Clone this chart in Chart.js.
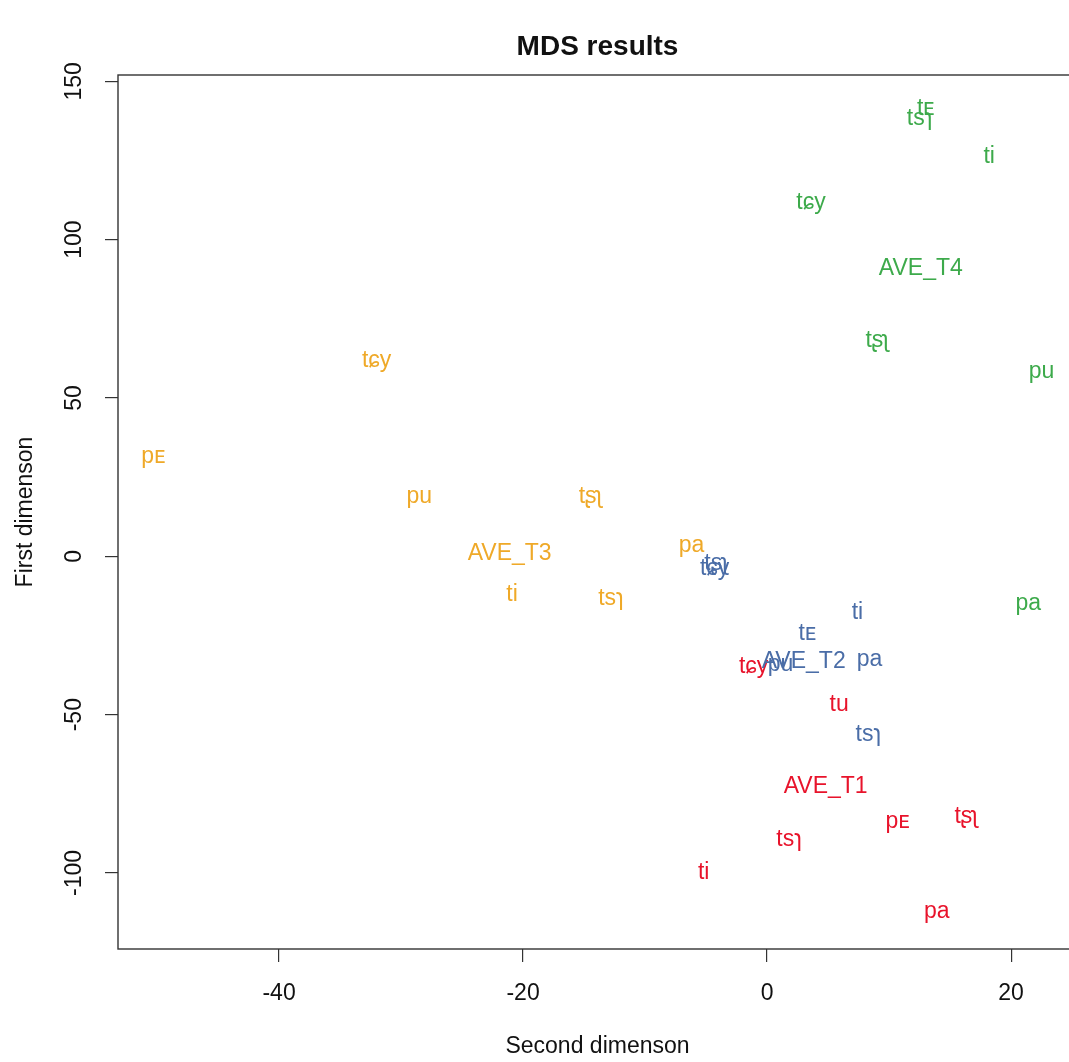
<!DOCTYPE html>
<html>
<head>
<meta charset="utf-8">
<title>MDS results</title>
<script src="https://cdn.jsdelivr.net/npm/chart.js@4.4.0/dist/chart.umd.min.js"></script>
<style>
  html, body { margin: 0; padding: 0; overflow: hidden; background: #ffffff; }
  #wrap { width: 1090px; height: 1062px; position: relative; }
</style>
</head>
<body>
<div id="wrap"><canvas id="mds" width="1090" height="1062"></canvas></div>
<script>
// MDS coordinates per talker group: x = second dimension, y = first dimension
const t1Labels = ['tɕy', 'tu', 'AVE_T1', 'tʂʅ', 'pᴇ', 'tsɿ', 'ti', 'pa'];
const t1X = [-1.1, 5.9, 4.8, 16.3, 10.7, 1.8, -5.2, 13.9];
const t1Y = [-34.3, -46.3, -72.2, -81.7, -83.2, -88.9, -99.3, -111.5];

const t2Labels = ['tʂʅ', 'tɕy', 'ti', 'tᴇ', 'AVE_T2', 'pu', 'pa', 'tsɿ'];
const t2X = [-4.2, -4.3, 7.4, 3.3, 3.0, 1.1, 8.4, 8.3];
const t2Y = [-1.8, -3.3, -17.2, -23.9, -32.7, -33.6, -32.1, -55.7];

const t3Labels = ['tɕy', 'pᴇ', 'pu', 'tʂʅ', 'AVE_T3', 'pa', 'ti', 'tsɿ'];
const t3X = [-32.0, -50.3, -28.5, -14.5, -21.1, -6.2, -20.9, -12.8];
const t3Y = [62.4, 32.0, 19.4, 19.4, 1.4, 3.9, -11.5, -12.8];

const t4Labels = ['tᴇ', 'tsɿ', 'ti', 'tɕy', 'AVE_T4', 'tʂʅ', 'pu', 'pa'];
const t4X = [13.0, 12.5, 18.2, 3.6, 12.6, 9.0, 22.5, 21.4];
const t4Y = [141.9, 138.8, 126.7, 112.2, 91.4, 68.7, 58.9, -14.4];

const xTicks = [-40, -20, 0, 20];
const yTicks = [-100, -50, 0, 50, 100, 150];

const groupColors = { T1: '#e8132b', T2: '#4a6da7', T3: '#efa928', T4: '#3daa4b' };

const FONT = '"Liberation Sans", Arial, "DejaVu Sans", sans-serif';
const AXIS_COLOR = '#333333';

function points(xs, ys) {
  return xs.map((x, i) => ({ x: x, y: ys[i] }));
}

function group(name, labels, xs, ys) {
  return {
    label: name,
    data: points(xs, ys),
    textLabels: labels,
    pointRadius: 0,
    pointHoverRadius: 0,
    borderColor: groupColors[name],
    backgroundColor: groupColors[name]
  };
}

// Draws each point as its text label, centred on the point
const textMarks = {
  id: 'textMarks',
  afterDatasetsDraw(chart) {
    const ctx = chart.ctx;
    ctx.save();
    ctx.font = '23px ' + FONT;
    ctx.textAlign = 'center';
    ctx.textBaseline = 'alphabetic';
    const capHalf = 23 * 0.716 / 2;
    chart.data.datasets.forEach((ds, i) => {
      const meta = chart.getDatasetMeta(i);
      ctx.fillStyle = ds.borderColor;
      meta.data.forEach((pt, j) => {
        ctx.fillText(ds.textLabels[j], pt.x, pt.y + capHalf);
      });
    });
    ctx.restore();
  }
};

// Box, tick labels and titles in the classic plot style
const frame = {
  id: 'frame',
  afterDraw(chart) {
    const ctx = chart.ctx;
    const a = chart.chartArea;
    const xs = chart.scales.x;
    const ys = chart.scales.y;
    ctx.save();
    ctx.strokeStyle = AXIS_COLOR;
    ctx.lineWidth = 1.4;
    ctx.strokeRect(a.left, a.top, a.right - a.left, a.bottom - a.top);

    ctx.fillStyle = '#111111';
    ctx.font = '23px ' + FONT;
    ctx.textAlign = 'center';
    ctx.textBaseline = 'middle';
    xTicks.forEach(v => {
      ctx.fillText(String(v), xs.getPixelForValue(v), a.bottom + 45);
    });
    yTicks.forEach(v => {
      ctx.save();
      ctx.translate(a.left - 43, ys.getPixelForValue(v));
      ctx.rotate(-Math.PI / 2);
      ctx.fillText(String(v), 0, 0);
      ctx.restore();
    });

    const cx = (a.left + a.right) / 2;
    const cy = (a.top + a.bottom) / 2;
    ctx.fillText('Second dimenson', cx, a.bottom + 98);
    ctx.save();
    ctx.translate(a.left - 92, cy);
    ctx.rotate(-Math.PI / 2);
    ctx.fillText('First dimenson', 0, 0);
    ctx.restore();

    ctx.font = 'bold 28px ' + FONT;
    ctx.fillText('MDS results', cx, 47);
    ctx.restore();
  }
};

const tickMarks = {
  display: true,
  drawOnChartArea: false,
  drawTicks: true,
  tickLength: 13,
  color: AXIS_COLOR,
  lineWidth: 1.2
};

new Chart(document.getElementById('mds'), {
  type: 'scatter',
  data: {
    datasets: [
      group('T1', t1Labels, t1X, t1Y),
      group('T2', t2Labels, t2X, t2Y),
      group('T3', t3Labels, t3X, t3Y),
      group('T4', t4Labels, t4X, t4Y)
    ]
  },
  options: {
    responsive: false,
    animation: false,
    devicePixelRatio: 1,
    layout: { padding: { top: 75, right: 13, left: 0, bottom: 0 } },
    plugins: {
      legend: { display: false },
      tooltip: { enabled: false },
      title: { display: false }
    },
    scales: {
      x: {
        type: 'linear',
        position: 'bottom',
        min: -53.2,
        max: 25.4,
        grid: tickMarks,
        border: { display: false },
        ticks: { display: false },
        afterBuildTicks: s => { s.ticks = xTicks.map(v => ({ value: v })); },
        afterFit: s => { s.height = 113; }
      },
      y: {
        type: 'linear',
        position: 'left',
        min: -124,
        max: 152,
        grid: tickMarks,
        border: { display: false },
        ticks: { display: false },
        afterBuildTicks: s => { s.ticks = yTicks.map(v => ({ value: v })); },
        afterFit: s => { s.width = 118; }
      }
    }
  },
  plugins: [textMarks, frame]
});
</script>
</body>
</html>
